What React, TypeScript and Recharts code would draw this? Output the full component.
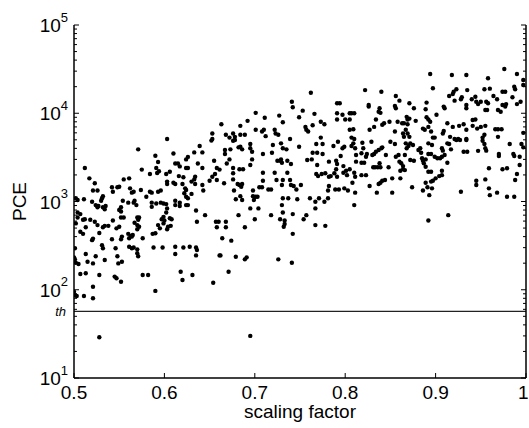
import React from "react";
import { ScatterChart, Scatter, XAxis, YAxis, ReferenceLine } from "recharts";

// [scaling factor, PCE], grouped by x range
const pointsA: [number, number][] = [
  [0.571,3900],[0.590,3300],[0.593,2800],[0.591,2400],[0.594,2200],[0.592,2100],[0.575,2300],[0.512,2400],[0.584,2050],[0.517,1830],
  [0.523,1610],[0.521,1330],[0.526,1330],[0.555,1780],[0.561,1830],[0.542,1450],[0.543,1290],[0.548,1450],[0.550,1470],[0.562,1410],
  [0.564,1260],[0.566,1290],[0.574,1350],[0.584,1290],[0.586,1260],[0.593,1290],[0.596,1330],[0.591,950],[0.596,970],[0.502,1090],
  [0.504,1040],[0.511,1060],[0.520,995],[0.524,910],[0.526,860],[0.527,890],[0.531,1090],[0.532,1150],[0.530,1020],[0.532,860],
  [0.535,890],[0.534,815],[0.554,1020],[0.552,860],[0.550,800],[0.552,770],[0.560,970],[0.566,970],[0.567,1020],[0.569,910],
  [0.580,1130],[0.586,970],[0.586,870],[0.599,950],[0.599,670],[0.597,630],[0.504,750],[0.507,720],[0.504,660],[0.510,620],
  [0.512,630],[0.502,565],[0.513,510],[0.507,455],[0.510,430],[0.518,620],[0.523,590],[0.526,540],[0.521,380],[0.520,365],
  [0.528,440],[0.532,510],[0.534,530],[0.538,530],[0.531,320],[0.532,295],[0.524,240],[0.513,254],[0.501,295],[0.500,233],
  [0.501,221],[0.502,202],[0.505,196],[0.515,208],[0.521,199],[0.534,217],[0.542,373],[0.543,610],[0.547,496],[0.552,660],
  [0.555,660],[0.550,518],[0.553,400],[0.552,373],[0.560,430],[0.563,406],[0.565,417],[0.561,383],[0.564,400],[0.546,295],
  [0.548,240],[0.549,199],[0.553,208],[0.570,660],[0.571,620],[0.572,660],[0.567,575],[0.570,540],[0.572,518],[0.570,484],
  [0.576,383],[0.561,307],[0.564,295],[0.566,301],[0.570,287],[0.570,259],[0.571,240],[0.587,430],[0.590,437],[0.588,301],
  [0.593,540],[0.595,496],[0.599,565],[0.598,301],[0.507,151],[0.513,154],[0.528,147],[0.545,141],[0.547,135],[0.552,123],
  [0.576,147],[0.582,147],[0.521,108],[0.590,97],[0.500,95],[0.501,87],[0.503,85],[0.511,85],[0.521,80],[0.528,29],
];

const pointsB: [number, number][] = [
  [0.603,5100],[0.653,5900],[0.653,5100],[0.663,7500],[0.692,8200],[0.684,7200],[0.668,5700],[0.672,5300],[0.676,5900],[0.678,5400],
  [0.684,5700],[0.689,5700],[0.652,4900],[0.639,4250],[0.633,3600],[0.642,3600],[0.626,3200],[0.624,3000],[0.610,3500],[0.612,2700],
  [0.615,2700],[0.617,2500],[0.624,2400],[0.626,2400],[0.637,2700],[0.642,2400],[0.655,2900],[0.658,2400],[0.661,2300],[0.602,2050],
  [0.606,2170],[0.603,1680],[0.603,1580],[0.616,1940],[0.621,1880],[0.610,1630],[0.612,1580],[0.620,1580],[0.623,1410],[0.624,1350],
  [0.630,1680],[0.634,1580],[0.634,1910],[0.633,1780],[0.650,1720],[0.642,1540],[0.643,1330],[0.653,1910],[0.656,2050],[0.658,1750],
  [0.602,935],[0.603,835],[0.602,750],[0.600,610],[0.606,645],[0.612,1020],[0.612,910],[0.617,970],[0.617,890],[0.622,1240],
  [0.624,1130],[0.626,1090],[0.630,1220],[0.624,910],[0.626,910],[0.635,790],[0.636,590],[0.645,700],[0.657,590],[0.660,590],
  [0.658,510],[0.603,484],[0.604,518],[0.608,630],[0.607,530],[0.612,307],[0.612,254],[0.621,301],[0.628,307],[0.635,301],
  [0.636,282],[0.635,245],[0.661,245],[0.667,3830],[0.667,3450],[0.673,3900],[0.676,4880],[0.678,4970],[0.682,4110],[0.684,4170],
  [0.686,3900],[0.695,4480],[0.695,4010],[0.697,3660],[0.669,2700],[0.672,3000],[0.676,2400],[0.683,2320],[0.687,2320],[0.676,1780],
  [0.676,2090],[0.681,1580],[0.683,1540],[0.686,1580],[0.685,1470],[0.695,2590],[0.697,3000],[0.698,1150],[0.699,1040],[0.698,1330],
  [0.695,835],[0.689,510],[0.682,700],[0.668,590],[0.668,510],[0.664,383],[0.674,360],[0.679,237],[0.689,221],[0.691,233],
  [0.662,245],[0.686,1040],[0.684,1150],[0.679,1060],[0.677,1330],[0.666,1610],[0.618,160],[0.620,129],[0.631,147],[0.654,120],
  [0.671,160],[0.695,30],
];

const pointsC: [number, number][] = [
  [0.762,17100],[0.741,13500],[0.742,11700],[0.701,10100],[0.753,10700],[0.766,9850],[0.711,8900],[0.727,9400],[0.731,7900],[0.749,9000],
  [0.791,13000],[0.794,13000],[0.791,10000],[0.797,9600],[0.791,8500],[0.773,8000],[0.777,7500],[0.756,7000],[0.757,6500],[0.759,6200],
  [0.764,7300],[0.701,6500],[0.708,6200],[0.710,6500],[0.712,5500],[0.722,6500],[0.723,5900],[0.726,5700],[0.739,5100],[0.773,5300],
  [0.709,3450],[0.719,3570],[0.720,4370],[0.725,2900],[0.729,3000],[0.730,2750],[0.729,4560],[0.731,4010],[0.735,3900],[0.736,2900],
  [0.740,2660],[0.749,4170],[0.758,2950],[0.763,3000],[0.764,3570],[0.769,3570],[0.768,4480],[0.775,4480],[0.769,2590],[0.775,3450],
  [0.782,2830],[0.787,4250],[0.792,4760],[0.790,2900],[0.795,3280],[0.797,4010],[0.799,4170],[0.709,2120],[0.709,1720],[0.708,1450],
  [0.705,1450],[0.715,1370],[0.718,1370],[0.722,2120],[0.724,1750],[0.728,2900],[0.731,1750],[0.730,1540],[0.736,2120],[0.739,1750],
  [0.740,1540],[0.743,1500],[0.746,1370],[0.751,1540],[0.737,1090],[0.747,1060],[0.731,1090],[0.730,910],[0.731,750],[0.728,630],
  [0.733,610],[0.732,518],[0.733,555],[0.742,720],[0.742,430],[0.754,630],[0.757,700],[0.761,1090],[0.767,995],[0.767,835],
  [0.771,1090],[0.777,995],[0.781,1090],[0.767,540],[0.778,530],[0.768,2050],[0.770,1940],[0.774,2050],[0.778,2090],[0.782,1910],
  [0.784,1940],[0.788,2090],[0.790,2320],[0.791,1910],[0.798,2120],[0.782,1500],[0.781,1330],[0.789,1370],[0.793,1370],[0.799,1410],
  [0.791,2660],[0.798,2520],[0.701,1130],[0.704,835],[0.700,630],[0.718,700],[0.703,1130],[0.726,221],[0.741,202],
];

const pointsD: [number, number][] = [
  [0.805,10000],[0.807,10000],[0.810,10000],[0.800,8500],[0.805,8500],[0.805,6500],[0.809,6600],[0.807,5300],[0.810,5100],[0.894,27900],
  [0.897,19200],[0.822,18300],[0.840,17500],[0.856,15700],[0.860,13900],[0.826,12400],[0.826,11900],[0.838,11400],[0.837,10400],[0.839,10100],
  [0.855,12100],[0.856,11400],[0.871,13000],[0.876,11400],[0.890,13200],[0.889,11100],[0.834,8500],[0.832,7000],[0.827,6500],[0.841,7400],
  [0.843,7700],[0.849,8000],[0.855,6200],[0.858,8000],[0.863,7700],[0.865,7700],[0.869,7500],[0.868,9100],[0.869,8500],[0.871,8700],
  [0.867,6500],[0.864,5900],[0.865,5400],[0.869,5900],[0.871,5400],[0.878,8200],[0.886,6700],[0.888,6500],[0.890,9000],[0.892,8500],
  [0.894,8000],[0.892,7000],[0.895,6200],[0.897,5300],[0.807,4250],[0.809,4560],[0.811,4010],[0.812,3360],[0.812,2830],[0.801,2230],
  [0.802,1990],[0.805,2320],[0.810,2120],[0.811,1910],[0.803,1330],[0.811,1260],[0.808,1630],[0.810,910],[0.819,4630],[0.820,4010],
  [0.818,3520],[0.829,4760],[0.824,3450],[0.823,3220],[0.830,3360],[0.832,3450],[0.834,3660],[0.837,3830],[0.840,4010],[0.841,4110],
  [0.831,2440],[0.833,2440],[0.836,2440],[0.839,2440],[0.838,2710],[0.845,3360],[0.818,2750],[0.821,2750],[0.818,1990],[0.823,1990],
  [0.848,2440],[0.850,4760],[0.855,4480],[0.856,3220],[0.859,3360],[0.860,2830],[0.862,2710],[0.864,2520],[0.861,2230],[0.864,2320],
  [0.866,2270],[0.866,3360],[0.868,4010],[0.870,4250],[0.872,4560],[0.867,4560],[0.872,2950],[0.876,2900],[0.875,4370],[0.881,3830],
  [0.883,4010],[0.884,3570],[0.885,3090],[0.886,2900],[0.887,2710],[0.889,3000],[0.892,3450],[0.895,3450],[0.892,4560],[0.896,4370],
  [0.889,2480],[0.892,2170],[0.895,2170],[0.899,3220],[0.897,1720],[0.852,1830],[0.861,1830],[0.827,1500],[0.835,1260],[0.837,1580],
  [0.839,1630],[0.841,1720],[0.844,1750],[0.852,1260],[0.874,1450],[0.886,1330],[0.889,1630],[0.891,1450],[0.893,1180],[0.896,1410],
  [0.895,1680],[0.892,610],
];

const pointsE: [number, number][] = [
  [0.918,27100],[0.934,27100],[0.976,31700],[0.990,27900],[0.997,23800],[0.997,20900],[0.958,24900],[0.923,18700],[0.920,17500],[0.935,18300],
  [0.954,18700],[0.960,19000],[0.987,20000],[0.988,18700],[0.974,17500],[0.977,17500],[0.901,9600],[0.909,11900],[0.910,11400],[0.915,15700],
  [0.919,16500],[0.921,13900],[0.928,14400],[0.929,15200],[0.934,12400],[0.934,11400],[0.940,14400],[0.944,15400],[0.945,13500],[0.947,12700],
  [0.950,13500],[0.956,13500],[0.958,13000],[0.955,10900],[0.957,10900],[0.964,15700],[0.968,14400],[0.969,10900],[0.972,10400],[0.974,12400],
  [0.977,11900],[0.978,12700],[0.985,15200],[0.990,12700],[0.994,13500],[0.899,5300],[0.908,5900],[0.909,6300],[0.913,7700],[0.916,5400],
  [0.921,5100],[0.925,5100],[0.934,5100],[0.919,7000],[0.926,7200],[0.931,7500],[0.934,6500],[0.941,8400],[0.944,8500],[0.941,7200],
  [0.946,6700],[0.950,7000],[0.955,7200],[0.954,5700],[0.952,5300],[0.966,6600],[0.969,6600],[0.973,6600],[0.969,5400],[0.997,6000],
  [0.902,3090],[0.905,3090],[0.907,3220],[0.907,4010],[0.908,3770],[0.913,4560],[0.915,4480],[0.910,3360],[0.913,2750],[0.917,3900],
  [0.907,2230],[0.907,1990],[0.904,1940],[0.900,1830],[0.923,4970],[0.927,4970],[0.934,4970],[0.931,3660],[0.935,3660],[0.947,3750],
  [0.952,4880],[0.954,4480],[0.955,4010],[0.956,3770],[0.970,3450],[0.970,3280],[0.982,4480],[0.986,3450],[0.987,3280],[0.993,3220],
  [0.995,4480],[0.997,4110],[0.993,2590],[0.959,2380],[0.974,2320],[0.979,2380],[0.990,2050],[0.988,1750],[0.945,1720],[0.945,1540],
  [0.955,1780],[0.959,1410],[0.960,1180],[0.968,1260],[0.979,1130],[0.987,1130],[0.928,1290],[0.914,700],
];

const xTicks = [0.5, 0.6, 0.7, 0.8, 0.9, 1];
const decadeTicks = [10, 100, 1000, 10000, 100000];
const minorTicks = [
  20, 30, 40, 50, 60, 70, 80, 90,
  200, 300, 400, 500, 600, 700, 800, 900,
  2000, 3000, 4000, 5000, 6000, 7000, 8000, 9000,
  20000, 30000, 40000, 50000, 60000, 70000, 80000, 90000,
];
const yTicks = [...decadeTicks, ...minorTicks].sort((a, b) => a - b);
const threshold = 57;

const FONT = "'Liberation Sans', Arial, Helvetica, sans-serif";

const data = [...pointsA, ...pointsB, ...pointsC, ...pointsD, ...pointsE].map(
  ([x, y]) => ({ x, y })
);

const LeftTick = (props: any) => {
  const { x, y, payload } = props;
  const major = decadeTicks.includes(payload.value);
  const exp = Math.round(Math.log10(payload.value));
  return (
    <g>
      <line x1={x} y1={y} x2={x + (major ? 5 : 3)} y2={y} stroke="#000" strokeWidth={1} />
      {major && (
        <text x={x - 6} y={y + 7} textAnchor="end" fontSize={19} fontFamily={FONT} fill="#000">
          10
          <tspan dy={-10.5} fontSize={13}>
            {exp}
          </tspan>
        </text>
      )}
    </g>
  );
};

const RightTick = (props: any) => {
  const { x, y, payload } = props;
  const major = decadeTicks.includes(payload.value);
  return <line x1={x} y1={y} x2={x - (major ? 5 : 3)} y2={y} stroke="#000" strokeWidth={1} />;
};

const BottomTick = (props: any) => {
  const { x, y, payload } = props;
  // the last label sits on the right edge; keep it inside the picture
  const last = payload.value === 1;
  return (
    <g>
      <line x1={x} y1={y} x2={x} y2={y - 5} stroke="#000" strokeWidth={1} />
      <text
        x={last ? x + 2.5 : x}
        y={y + 21}
        textAnchor={last ? "end" : "middle"}
        fontSize={19}
        fontFamily={FONT}
        fill="#000"
      >
        {payload.value}
      </text>
    </g>
  );
};

const TopTick = (props: any) => {
  const { x, y } = props;
  return <line x1={x} y1={y} x2={x} y2={y + 5} stroke="#000" strokeWidth={1} />;
};

const Dot = (props: any) => <circle cx={props.cx} cy={props.cy} r={2.2} fill="#000" />;

export default function App() {
  return (
    <div style={{ position: "absolute", left: 0, top: 0, background: "#fff" }}>
      <ScatterChart width={529} height={428} margin={{ top: 25, right: 0, bottom: 0, left: 0 }}>
        <XAxis
          xAxisId="bottom"
          dataKey="x"
          type="number"
          domain={[0.5, 1]}
          ticks={xTicks}
          interval={0}
          allowDataOverflow
          height={50}
          tickSize={0}
          tickMargin={0}
          tick={<BottomTick />}
          tickLine={false}
          axisLine={{ stroke: "#000", strokeWidth: 1.5 }}
          label={{ value: "scaling factor", position: "center", dy: 8, fontSize: 19, fontFamily: FONT, fill: "#000" }}
        />
        <XAxis
          xAxisId="top"
          orientation="top"
          dataKey="x"
          type="number"
          domain={[0.5, 1]}
          ticks={xTicks}
          interval={0}
          allowDataOverflow
          height={0}
          tickSize={0}
          tickMargin={0}
          tick={<TopTick />}
          tickLine={false}
          axisLine={{ stroke: "#000", strokeWidth: 1.5 }}
        />
        <YAxis
          yAxisId="left"
          dataKey="y"
          type="number"
          scale="log"
          domain={[10, 100000]}
          ticks={yTicks}
          interval={0}
          allowDataOverflow
          width={74}
          tickSize={0}
          tickMargin={0}
          tick={<LeftTick />}
          tickLine={false}
          axisLine={{ stroke: "#000", strokeWidth: 1.5 }}
          label={{ value: "PCE", angle: -90, position: "center", dx: -18, fontSize: 19, fontFamily: FONT, fill: "#000" }}
        />
        <YAxis
          yAxisId="right"
          orientation="right"
          dataKey="y"
          type="number"
          scale="log"
          domain={[10, 100000]}
          ticks={yTicks}
          interval={0}
          allowDataOverflow
          width={3}
          tickSize={0}
          tickMargin={0}
          tick={<RightTick />}
          tickLine={false}
          axisLine={{ stroke: "#000", strokeWidth: 1.5 }}
        />
        <ReferenceLine
          xAxisId="bottom"
          yAxisId="left"
          y={threshold}
          stroke="#222"
          strokeWidth={1.2}
          label={{ value: "th", position: "left", offset: 8, fontSize: 13, fontStyle: "italic", fontFamily: FONT, fill: "#000" }}
        />
        <Scatter
          xAxisId="top"
          yAxisId="right"
          data={data}
          shape={() => <g />}
          isAnimationActive={false}
        />
        <Scatter
          xAxisId="bottom"
          yAxisId="left"
          data={data}
          fill="#000"
          shape={<Dot />}
          isAnimationActive={false}
        />
      </ScatterChart>
    </div>
  );
}
